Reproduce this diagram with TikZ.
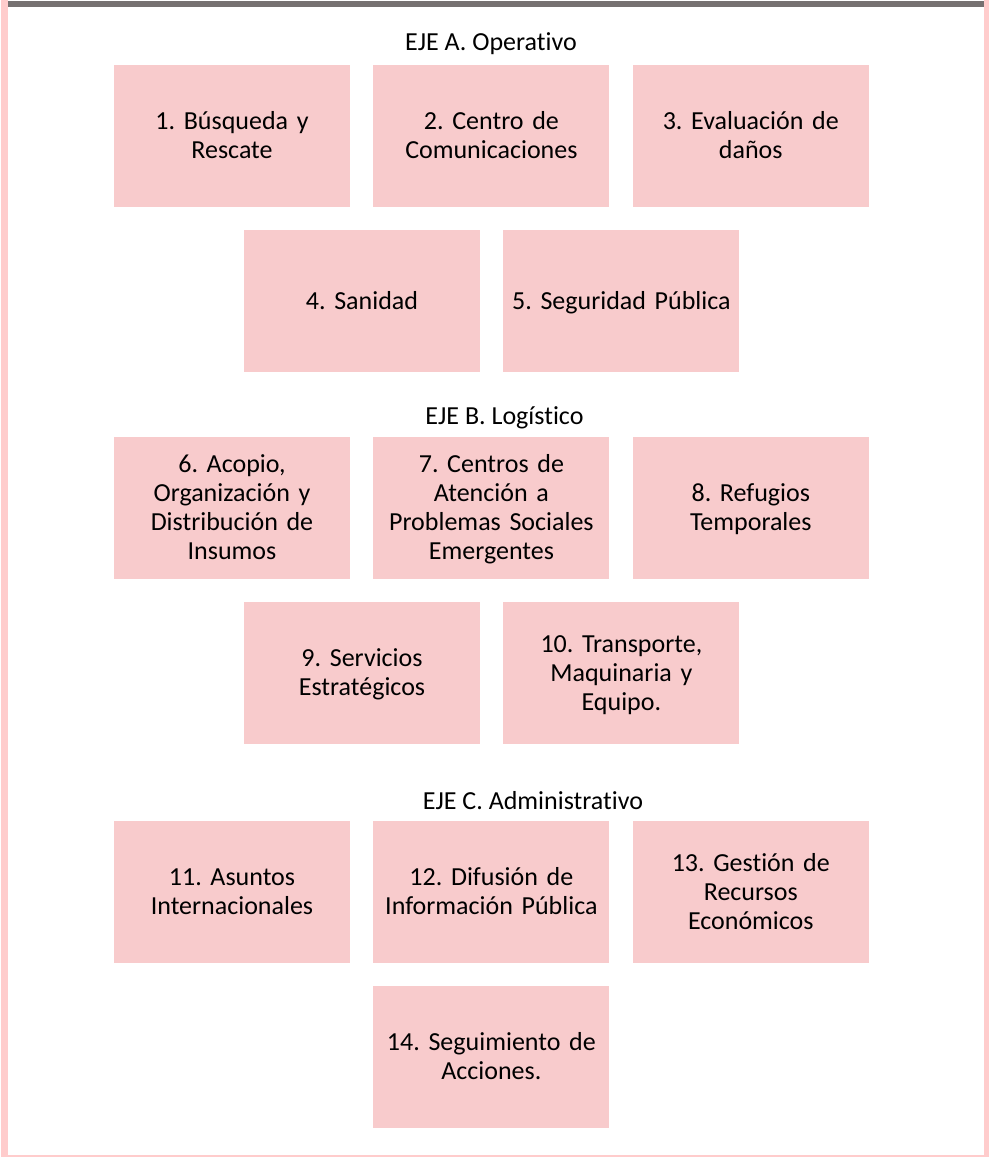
\documentclass[tikz,border=0pt]{standalone}
\usepackage{fontspec}
\setmainfont{Carlito}[Ligatures=NoCommon]
\usetikzlibrary{positioning}
\definecolor{ejepink}{HTML}{F8CBCC}
\definecolor{framepink}{HTML}{FFCCCC}
\definecolor{bargray}{HTML}{767171}
\tikzset{
	mesa/.style={fill=ejepink, minimum width=236pt, minimum height=142pt,
		align=center, text width=226pt, inner sep=0pt,
		font=\fontsize{26}{29}\selectfont,
		execute at begin node={\rule{0pt}{23pt}},
		execute at end node={\rule[-7pt]{0pt}{7pt}}},
	eje/.style={inner sep=0pt, font=\fontsize{26}{29}\selectfont}
}
\frenchspacing

\begin{document}
\begin{tikzpicture}[x=1pt, y=-1pt, node distance=23pt and 23pt]
	% page frame
	\useasboundingbox (0,0) rectangle (989,1157);
	\fill[framepink] (1,0) rectangle (8,1157);
	\fill[framepink] (984,0) rectangle (989,1157);
	\fill[framepink] (1,1155) rectangle (989,1157);
	\fill[bargray] (8,1) rectangle (984,7);

	% Eje A
	\node[eje] (ejeA) at (491,44) {EJE A. Operativo};
	\node[mesa] (m1) at (232,136) {1. Búsqueda y\\Rescate};
	\node[mesa, right=of m1] (m2) {2. Centro de\\Comunicaciones};
	\node[mesa, right=of m2] (m3) {3. Evaluación de\\daños};
	\node[mesa] (m4) at (362,301) {4. Sanidad};
	\node[mesa, right=of m4] (m5) {5. Seguridad Pública};

	% Eje B
	\node[eje] (ejeB) at (504.5,418) {EJE B. Logístico};
	\node[mesa] (m6) at (232,508) {6. Acopio,\\Organización y\\Distribución de\\Insumos};
	\node[mesa, right=of m6] (m7) {7. Centros de\\Atención a\\Problemas Sociales\\Emergentes};
	\node[mesa, right=of m7] (m8) {8. Refugios\\Temporales};
	\node[mesa] (m9) at (362,673) {9. Servicios\\Estratégicos};
	\node[mesa, right=of m9] (m10) {10. Transporte,\\Maquinaria y\\Equipo.};

	% Eje C
	\node[eje] (ejeC) at (533,801) {EJE C. Administrativo};
	\node[mesa] (m11) at (232,892) {11. Asuntos\\Internacionales};
	\node[mesa, right=of m11] (m12) {12. Difusión de\\Información Pública};
	\node[mesa, right=of m12] (m13) {13. Gestión de\\Recursos\\Económicos};
	\node[mesa, below=of m12] (m14) {14. Seguimiento de\\Acciones.};
\end{tikzpicture}
\end{document}
